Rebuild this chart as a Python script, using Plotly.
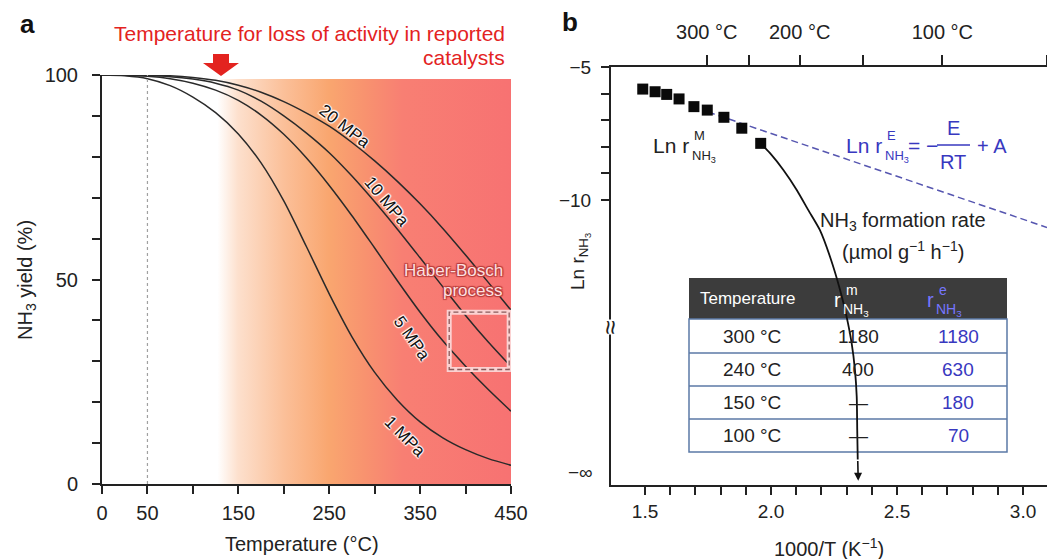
import plotly.graph_objects as go

W, H = 1047, 559
FONT = "Liberation Sans, Arial, Helvetica, sans-serif"
INK = "#222222"
BLUE = "#3838bf"
RED = "#e3231f"

# ---------------- panel a data ----------------
temperature_c = [0, 25, 50, 75, 100, 125, 150, 175, 200, 225, 250, 275, 300, 325, 350, 375, 400, 425, 450]
yield_1mpa = [100, 99.8, 99.1, 97.4, 94.6, 90.8, 85.6, 78.5, 69.2, 58, 46.5, 36, 27.3, 20.5, 15.2, 11.3, 8.4, 6.2, 4.6]
yield_5mpa = [100, 99.95, 99.7, 99.1, 98, 96.3, 93.8, 90.2, 85.5, 79.7, 73, 65.6, 57.7, 49.7, 42, 35, 28.8, 23.1, 17.8]
yield_10mpa = [100, 99.97, 99.85, 99.6, 99, 98, 96.3, 93.6, 90, 85.8, 81, 75.3, 69, 62.3, 55.3, 48.2, 41.2, 34.7, 28.7]
yield_20mpa = [100, 99.99, 99.93, 99.8, 99.4, 98.7, 97.5, 95.8, 93.5, 90.7, 87.5, 83.5, 79, 74, 68.5, 62.5, 56, 49.3, 42.5]
pressure_labels = ["1 MPa", "5 MPa", "10 MPa", "20 MPa"]
label_temp = [333, 341, 313, 267]
label_yield = [11.6, 35.6, 69, 87.4]
label_angle = [45, 55, 50, 38]

gradient_temp = [127, 450, 450, 127]
gradient_yield = [0, 0, 99, 99]
dotted_temp = 50
hb_temp = [382, 448]
hb_yield = [28, 42]
a_xmajor = [0, 50, 150, 250, 350, 450]
a_xminor = [100, 200, 300, 400]
a_ymajor = [0, 50, 100]
a_yminor = [10, 20, 30, 40, 60, 70, 80, 90]

# ---------------- panel b data ----------------
inv_t_measured = [1.491, 1.540, 1.586, 1.635, 1.694, 1.747, 1.813, 1.884, 1.959]
ln_r_measured = [-5.83, -5.93, -6.03, -6.20, -6.49, -6.62, -6.89, -7.30, -7.87]
inv_t_drop = [1.959, 1.996, 2.049, 2.102, 2.148, 2.194, 2.234, 2.274, 2.300, 2.320, 2.333, 2.340, 2.342, 2.344]
ln_r_drop = [-7.87, -8.24, -8.87, -9.62, -10.38, -11.13, -12.13, -13.38, -14.39, -15.39, -16.39, -17.39, -18.65, -19.75]
inv_t_arrhenius = [1.75, 3.095]
ln_r_arrhenius = [-6.69, -11.03]
arrow_tip = (2.346, -20.55)
b_xmajor = [1.5, 2.0, 2.5, 3.0]
b_xminor = [1.6, 1.7, 1.8, 1.9, 2.1, 2.2, 2.3, 2.4, 2.6, 2.7, 2.8, 2.9]
b_ymajor = [-5, -10]
b_yminor = [-6, -7, -8, -9]
top_major_c = [300, 200, 100]
top_minor_c = [250, 150, 50]
top_major_vals = [1000.0 / (t + 273.15) for t in top_major_c]
top_minor_vals = [1000.0 / (t + 273.15) for t in top_minor_c]
top_major_text = [f"{t} °C" for t in top_major_c]

table_temperature = ["300 °C", "240 °C", "150 °C", "100 °C"]
table_r_m = ["1180", "400", "\u2014", "\u2014"]
table_r_e = ["1180", "630", "180", "70"]


def px(x):
    return x / W


def py(y):
    return 1 - y / H


fig = go.Figure()

# gradient background (panel a)
fig.add_trace(go.Scatter(
    x=gradient_temp, y=gradient_yield, fill="toself", mode="none",
    fillgradient=dict(type="horizontal", start=127, stop=450,
                      colorscale=[[0, "#ffffff"], [0.07, "#fde0cd"], [0.23, "#fbbf98"],
                                  [0.38, "#f9a66f"], [0.505, "#f8926f"], [0.63, "#f87f73"],
                                  [1, "#f77272"]]),
    hoverinfo="skip", showlegend=False, xaxis="x", yaxis="y"))

for ys in [yield_1mpa, yield_5mpa, yield_10mpa, yield_20mpa]:
    fig.add_trace(go.Scatter(x=temperature_c, y=ys, mode="lines",
                             line=dict(color="#2a2a2a", width=1.5, shape="spline", smoothing=0.8),
                             showlegend=False, hoverinfo="skip", xaxis="x", yaxis="y"))

# panel b traces
fig.add_trace(go.Scatter(x=inv_t_arrhenius, y=ln_r_arrhenius, mode="lines",
                         line=dict(color="#5656b0", width=1.5, dash="7px,4px"),
                         showlegend=False, hoverinfo="skip", xaxis="x2", yaxis="y2"))
fig.add_trace(go.Scatter(x=inv_t_drop, y=ln_r_drop, mode="lines",
                         line=dict(color="#111111", width=1.8, shape="spline", smoothing=0.6),
                         showlegend=False, hoverinfo="skip", xaxis="x2", yaxis="y2"))
fig.add_trace(go.Scatter(x=inv_t_measured, y=ln_r_measured, mode="markers",
                         marker=dict(symbol="square", size=11, color="#0a0a0a"),
                         showlegend=False, hoverinfo="skip", xaxis="x2", yaxis="y2"))
# invisible trace to activate top axis
fig.add_trace(go.Scatter(x=[inv_t_arrhenius[0]], y=[ln_r_arrhenius[0]], mode="markers",
                         marker=dict(opacity=0), showlegend=False, hoverinfo="skip",
                         xaxis="x3", yaxis="y2"))


def axis(size, standoff, ticklen, major, minor, text=None, **kw):
    d = dict(showline=True, linecolor=INK, linewidth=2, ticks="outside", ticklen=ticklen,
             tickwidth=2, tickcolor=INK, showgrid=False, zeroline=False, automargin=False,
             tickfont=dict(size=size, color=INK, family=FONT), fixedrange=True,
             ticklabelstandoff=standoff, tickmode="array", tickvals=major,
             minor=dict(tickvals=minor, ticks="outside", ticklen=ticklen, tickwidth=2,
                        tickcolor=INK, showgrid=False))
    if text is not None:
        d["ticktext"] = text
    d.update(kw)
    return d


fig.update_layout(
    width=W, height=H, autosize=False,
    margin=dict(l=0, r=0, t=0, b=0, autoexpand=False),
    paper_bgcolor="white", plot_bgcolor="rgba(0,0,0,0)",
    font=dict(family=FONT, color=INK),
    xaxis=axis(20, 2, 8, a_xmajor, a_xminor, [str(v) for v in a_xmajor],
               domain=[px(102), px(511)], range=[0, 450], anchor="y"),
    yaxis=axis(20, 10, 8, a_ymajor, a_yminor, [str(v) for v in a_ymajor],
               domain=[py(484), py(75)], range=[0, 100], anchor="x"),
    xaxis2=axis(19, 0, 8, b_xmajor, b_xminor, [f"{v:.1f}" for v in b_xmajor],
                domain=[px(611), 1.0], range=[1.365, 3.095], anchor="y2"),
    yaxis2=axis(19, 6, 8, b_ymajor, b_yminor, ["\u22125", "\u221210"],
                domain=[py(485), py(67)], range=[-20.71, -5], anchor="x2"),
    xaxis3=axis(20, 8, 10, top_major_vals, top_minor_vals, top_major_text,
                overlaying="x2", side="top", anchor="y2", range=[1.365, 3.095]),
)

shapes = []
shapes.append(dict(type="line", xref="x", yref="y", x0=dotted_temp, x1=dotted_temp, y0=0, y1=100,
                   line=dict(color="#a0a0a0", width=1.2, dash="dot")))
shapes.append(dict(type="rect", xref="x", yref="y", x0=hb_temp[0], x1=hb_temp[1], y0=hb_yield[0], y1=hb_yield[1],
                   line=dict(color="#fbd2d2", width=5)))
shapes.append(dict(type="rect", xref="x", yref="y", x0=hb_temp[0], x1=hb_temp[1], y0=hb_yield[0], y1=hb_yield[1],
                   line=dict(color="#8a5a5a", width=1.3, dash="5px,3px")))
pts = [(213, 54), (229, 54), (229, 63), (239, 63), (221, 76), (203, 63), (213, 63)]
path = "M " + " L ".join(f"{px(a):.5f},{py(b):.5f}" for a, b in pts) + " Z"
shapes.append(dict(type="path", xref="paper", yref="paper", path=path,
                   fillcolor=RED, line=dict(width=0)))
tl, tr = 689, 1007
shapes.append(dict(type="rect", xref="paper", yref="paper", x0=px(tl), x1=px(tr), y0=py(319), y1=py(278),
                   fillcolor="#3c3c3c", line=dict(width=0), layer="below"))
shapes.append(dict(type="rect", xref="paper", yref="paper", x0=px(tl), x1=px(tr), y0=py(452), y1=py(319),
                   fillcolor="white", line=dict(color="#5b79a6", width=1.5), layer="below"))
for yline in [353, 386, 419]:
    shapes.append(dict(type="line", xref="paper", yref="paper", x0=px(tl), x1=px(tr), y0=py(yline), y1=py(yline),
                       line=dict(color="#5b79a6", width=1.5), layer="below"))
shapes.append(dict(type="line", xref="paper", yref="paper", x0=px(937), x1=px(970), y0=py(145), y1=py(145),
                   line=dict(color=BLUE, width=1.6)))
fig.update_layout(shapes=shapes)

ann = []


def t(x, y, text, size=17, color=INK, xa="center", ya="middle", **kw):
    ann.append(dict(x=px(x), y=py(y), xref="paper", yref="paper", text=text, showarrow=False,
                    xanchor=xa, yanchor=ya, font=dict(size=size, color=color, family=FONT), **kw))


halo = "1px 1px 1px #fff, -1px -1px 1px #fff, 1px -1px 1px #fff, -1px 1px 1px #fff"

# panel a text
t(27, 24, "<b>a</b>", size=26, color="#111")
t(507, 33, "Temperature for loss of activity in reported", size=21, color=RED, xa="right")
t(507, 57, "catalysts", size=21, color=RED, xa="right")
t(26, 280, "NH<sub>3</sub> yield (%)", size=20, textangle=-90)
t(302, 544, "Temperature (°C)", size=20)
for lbl, lx, ly, ang in zip(pressure_labels, label_temp, label_yield, label_angle):
    ann.append(dict(x=lx, y=ly, xref="x", yref="y", text=lbl, showarrow=False, textangle=ang,
                    font=dict(size=17, color="#111", family=FONT, shadow=halo)))
hb_shadow = "1px 1px 1px #b83a3a, -1px -1px 1px #b83a3a, 1px -1px 1px #b83a3a, -1px 1px 1px #b83a3a"
t(505, 270, "Haber-Bosch", size=17, color="#fde0e0", xa="right")
ann[-1]["font"]["shadow"] = hb_shadow
t(505, 290, "process", size=17, color="#fde0e0", xa="right")
ann[-1]["font"]["shadow"] = hb_shadow

# panel b text
t(570, 22, "<b>b</b>", size=26, color="#111")
t(580, 472, "\u2212\u221e", size=19)
t(611, 327, "\u2248", size=26, textangle=90, bgcolor="white", borderpad=0)
t(580, 262, "Ln r<sub>NH<sub>3</sub></sub>", size=19, textangle=-90)
t(829, 547, "1000/T (K<sup>\u22121</sup>)", size=20)
# Ln r^M_NH3
t(691, 146, "Ln r", size=21, xa="right")
t(692, 135, "M", size=13, xa="left")
t(690, 156, "NH<sub>3</sub>", size=13, xa="left")
# blue Arrhenius formula
t(884, 146, "Ln r", size=21, color=BLUE, xa="right")
t(885, 135, "E", size=13, color=BLUE, xa="left")
t(883, 156, "NH<sub>3</sub>", size=13, color=BLUE, xa="left")
t(906, 145, "= \u2212", size=21, color=BLUE, xa="left")
t(953, 128, "E", size=20, color=BLUE)
t(953, 162, "RT", size=20, color=BLUE)
t(975, 146, "+ A", size=20, color=BLUE, xa="left")
# formation rate caption
t(903, 221, "NH<sub>3</sub> formation rate", size=20)
t(903, 251, "(\u00b5mol g<sup>\u22121</sup> h<sup>\u22121</sup>)", size=20)
# table header
t(747, 298, "Temperature", size=17, color="white")
t(843, 300, "r", size=20, color="white", xa="right")
t(844, 290, "m", size=14, color="white", xa="left")
t(841, 310, "NH<sub>3</sub>", size=14, color="white", xa="left")
t(936, 300, "r", size=20, color="#7676ff", xa="right")
t(937, 290, "e", size=14, color="#7676ff", xa="left")
t(934, 310, "NH<sub>3</sub>", size=14, color="#7676ff", xa="left")
row_centers = [336, 369.5, 402.5, 435.5]
for rc, tt, rm, re in zip(row_centers, table_temperature, table_r_m, table_r_e):
    t(752, rc, tt, size=19)
    t(858, rc, rm, size=19)
    t(958, rc, re, size=19, color=BLUE)

# arrow at end of drop curve
ann.append(dict(x=arrow_tip[0], y=arrow_tip[1], xref="x2", yref="y2",
                ax=inv_t_drop[-1], ay=ln_r_drop[-1], axref="x2", ayref="y2",
                text="", showarrow=True, arrowhead=2, arrowsize=1, arrowwidth=1.6, arrowcolor="#111"))

fig.update_layout(annotations=ann)

fig.write_html("out.html", config={"displayModeBar": False},
               post_script="document.body.style.margin='0px';")
